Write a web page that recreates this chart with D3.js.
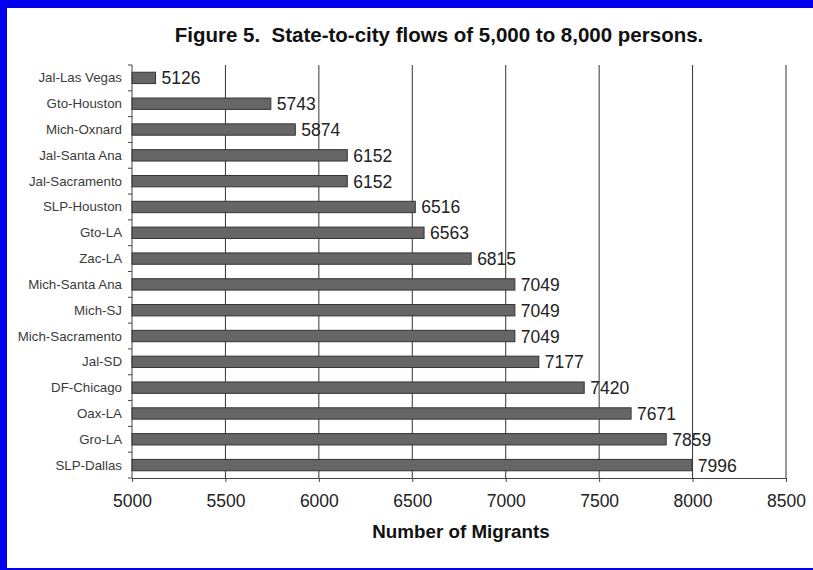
<!DOCTYPE html>
<html>
<head>
<meta charset="utf-8">
<script src="https://cdn.jsdelivr.net/npm/d3@7"></script>
<style>
  html, body { margin: 0; padding: 0; background: #fff; }
  svg { display: block; font-family: Arial, "Liberation Sans", sans-serif; }
</style>
</head>
<body>
<svg id="chart" width="813" height="570"></svg>
<script>
// State-to-city migrant flows, top to bottom
const routes = [
  "Jal-Las Vegas", "Gto-Houston", "Mich-Oxnard", "Jal-Santa Ana", "Jal-Sacramento",
  "SLP-Houston", "Gto-LA", "Zac-LA", "Mich-Santa Ana", "Mich-SJ",
  "Mich-Sacramento", "Jal-SD", "DF-Chicago", "Oax-LA", "Gro-LA", "SLP-Dallas"
];
const migrants = [5126, 5743, 5874, 6152, 6152, 6516, 6563, 6815, 7049, 7049, 7049, 7177, 7420, 7671, 7859, 7996];
const xTicks = [5000, 5500, 6000, 6500, 7000, 7500, 8000, 8500];
const titleText = "Figure 5.  State-to-city flows of 5,000 to 8,000 persons.";
const xAxisTitle = "Number of Migrants";

const data = routes.map((r, i) => ({ route: r, value: migrants[i] }));

const svg = d3.select("#chart");
const W = 813, H = 570;
const plot = { left: 132, right: 786, top: 65, bottom: 478 };

// blue frame
svg.append("rect").attr("x", 0).attr("y", 0).attr("width", W).attr("height", H).attr("fill", "#0000ee");
svg.append("rect").attr("x", 7).attr("y", 8).attr("width", W - 7 + 10).attr("height", H - 8 - 2).attr("fill", "#fff");

const x = d3.scaleLinear().domain([5000, 8500]).range([plot.left, plot.right]);
const y = d3.scaleBand().domain(routes).range([plot.top, plot.bottom]).paddingInner(0).paddingOuter(0);

// vertical gridlines
svg.append("g").selectAll("line").data(xTicks.slice(1)).join("line")
  .attr("x1", d => x(d)).attr("x2", d => x(d))
  .attr("y1", plot.top).attr("y2", plot.bottom)
  .attr("stroke", "#333").attr("stroke-width", 1);

// bars
const barH = y.bandwidth() * 0.44;
svg.append("g").selectAll("rect").data(data).join("rect")
  .attr("x", x(5000))
  .attr("y", d => y(d.route) + (y.bandwidth() - barH) / 2)
  .attr("width", d => x(d.value) - x(5000))
  .attr("height", barH)
  .attr("fill", "#666")
  .attr("stroke", "#333")
  .attr("stroke-width", 1);

// value labels
svg.append("g").selectAll("text").data(data).join("text")
  .attr("x", d => x(d.value) + 6)
  .attr("y", d => y(d.route) + y.bandwidth() / 2 + 6.5)
  .attr("font-size", 17.5)
  .attr("fill", "#222")
  .text(d => d.value);

// x axis
const xAxis = d3.axisBottom(x).tickValues(xTicks).tickSize(4).tickPadding(13).tickFormat(d3.format("d"));
const gx = svg.append("g").attr("transform", `translate(0,${plot.bottom})`).call(xAxis);
gx.select(".domain").attr("stroke", "#444").attr("d", `M${plot.left},0.5H${plot.right}`);
gx.selectAll(".tick line").attr("stroke", "#444");
gx.selectAll(".tick text").attr("font-size", 17.5).attr("fill", "#222").attr("font-family", "Arial, 'Liberation Sans', sans-serif");

// y axis: ticks between categories
const gy = svg.append("g").attr("transform", `translate(${plot.left},0)`);
gy.append("line").attr("x1", 0).attr("x2", 0).attr("y1", plot.top).attr("y2", plot.bottom).attr("stroke", "#444");
const bounds = routes.map(r => y(r)).concat([plot.bottom]);
gy.selectAll("line.tk").data(bounds).join("line").attr("class", "tk")
  .attr("x1", -4).attr("x2", 0).attr("y1", d => d).attr("y2", d => d).attr("stroke", "#444");
gy.selectAll("text").data(routes).join("text")
  .attr("x", -10)
  .attr("y", r => y(r) + y.bandwidth() / 2 + 4.5)
  .attr("text-anchor", "end")
  .attr("font-size", 13.3)
  .attr("fill", "#3a3a3a")
  .text(r => r);

// titles
svg.append("text")
  .attr("x", 439).attr("y", 42)
  .attr("text-anchor", "middle")
  .attr("font-size", 20.5).attr("font-weight", "bold").attr("fill", "#111")
  .style("white-space", "pre")
  .text(titleText);

svg.append("text")
  .attr("x", 461).attr("y", 538)
  .attr("text-anchor", "middle")
  .attr("font-size", 18.8).attr("font-weight", "bold").attr("fill", "#111")
  .text(xAxisTitle);
</script>
</body>
</html>
